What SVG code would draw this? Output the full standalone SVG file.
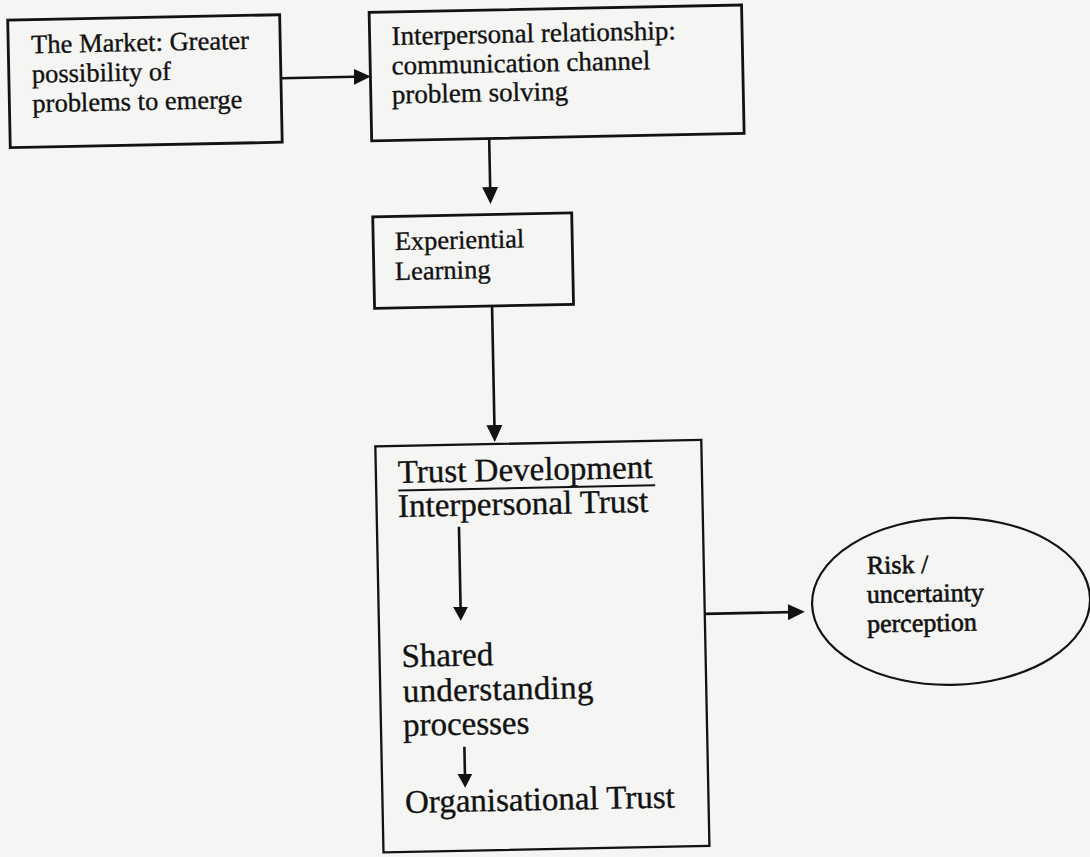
<svg xmlns="http://www.w3.org/2000/svg" width="1090" height="857" viewBox="0 0 1090 857">
  <style>
    .box { fill: none; stroke: #121212; stroke-width: 2.8; }
    .t { font-family: "Liberation Serif", "Times New Roman", serif; fill: #111111; stroke: #111111; stroke-width: 0.35; }
    .s { font-size: 26.5px; }
    .l { font-size: 33px; }
    .e { font-size: 26px; stroke-width: 0.6; }
    .conn { stroke: #121212; stroke-width: 2.6; fill: none; }
  </style>
  <defs>
    <marker id="ah" markerUnits="userSpaceOnUse" markerWidth="17" markerHeight="16" refX="13" refY="8" orient="auto">
      <path d="M0,0 L17,8 L0,16 z" fill="#121212"/>
    </marker>
    <marker id="ahs" markerUnits="userSpaceOnUse" markerWidth="14" markerHeight="15" refX="10" refY="7.5" orient="auto">
      <path d="M0,0 L14,7.5 L0,15 z" fill="#121212"/>
    </marker>
  </defs>
  <rect x="0" y="0" width="1090" height="857" fill="#f5f5f3"/>
  <g transform="rotate(-1.15 545 428)">
    <g id="connectors">
      <line class="conn" x1="288" y1="73" x2="374" y2="73" marker-end="url(#ah)"/>
      <line class="conn" x1="495" y1="137.5" x2="495" y2="199" marker-end="url(#ah)"/>
      <line class="conn" x1="494.5" y1="305" x2="494.5" y2="437" marker-end="url(#ah)"/>
      <line class="conn" x1="457" y1="525" x2="457" y2="615" marker-end="url(#ahs)"/>
      <line class="conn" x1="458" y1="745" x2="458" y2="782" marker-end="url(#ahs)"/>
      <line class="conn" x1="701" y1="617" x2="797" y2="617" marker-end="url(#ah)"/>
    </g>
    <g id="node-market">
      <rect class="box" x="16" y="9.5" width="272" height="127.5"/>
      <text class="t s" x="39" y="43">The Market: Greater</text>
      <text class="t s" x="39" y="72.5">possibility of</text>
      <text class="t s" x="39" y="102">problems to emerge</text>
    </g>
    <g id="node-interpersonal">
      <rect class="box" x="377.5" y="9" width="372.5" height="128.5"/>
      <text class="t s" x="399.5" y="42" style="font-size:27px">Interpersonal relationship:</text>
      <text class="t s" x="399" y="71.5" style="font-size:27px">communication channel</text>
      <text class="t s" x="398.5" y="100.5" style="font-size:27px">problem solving</text>
    </g>
    <g id="node-experiential">
      <rect class="box" x="377" y="213.5" width="199" height="91.5"/>
      <text class="t s" x="398.5" y="247">Experiential</text>
      <text class="t s" x="398" y="277">Learning</text>
    </g>
    <g id="node-trust">
      <rect class="box" x="375" y="443" width="326" height="406" style="stroke-width:2.3"/>
      <text class="t l" x="397" y="480">Trust Development</text>
      <line x1="397" y1="487.5" x2="654" y2="487.5" stroke="#121212" stroke-width="2"/>
      <text class="t l" x="396.5" y="514">Interpersonal Trust</text>
      <text class="t l" x="397" y="664">Shared</text>
      <text class="t l" x="397.5" y="699" letter-spacing="0.3">understanding</text>
      <text class="t l" x="397" y="733">processes</text>
      <text class="t l" x="397.5" y="810">Organisational Trust</text>
    </g>
    <g id="node-risk">
      <ellipse class="box" cx="947.5" cy="609.5" rx="139" ry="83.5" style="stroke-width:2.2"/>
      <text class="t e" x="864" y="580.5">Risk /</text>
      <text class="t e" x="863.5" y="609.5">uncertainty</text>
      <text class="t e" x="863" y="639">perception</text>
    </g>
  </g>
</svg>
